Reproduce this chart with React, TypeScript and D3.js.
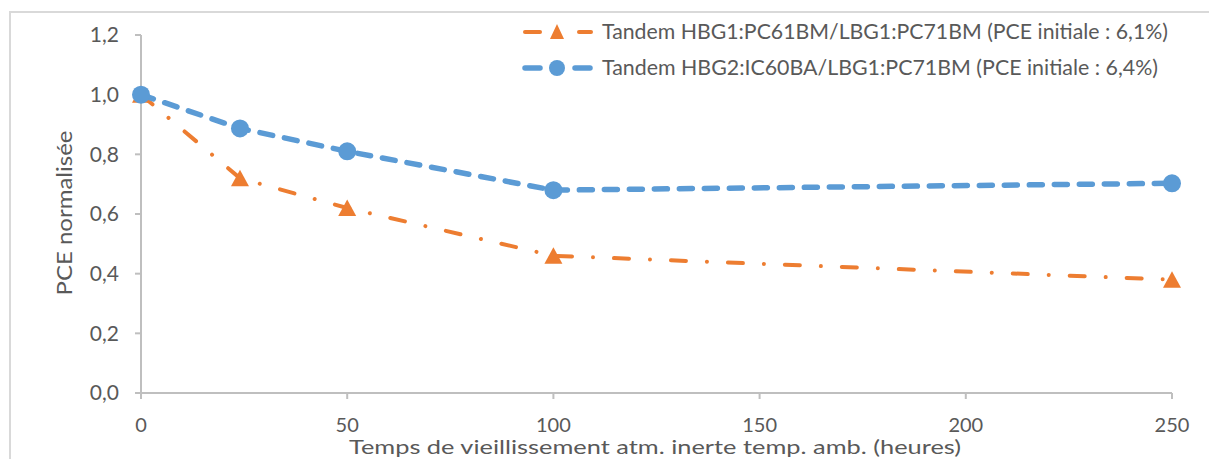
import React from "react";
import * as d3 from "d3";

const hours = [0, 24, 50, 100, 250];
const tandem1 = [1.0, 0.72, 0.62, 0.46, 0.38];
const tandem2 = [1.0, 0.887, 0.81, 0.68, 0.703];
const xTicks = [0, 50, 100, 150, 200, 250];
const yTicks = [0, 0.2, 0.4, 0.6, 0.8, 1.0, 1.2];
const legendLabels = [
  "Tandem HBG1:PC61BM/LBG1:PC71BM (PCE initiale : 6,1%)",
  "Tandem HBG2:IC60BA/LBG1:PC71BM (PCE initiale : 6,4%)",
];
const xTitle = "Temps de vieillissement atm. inerte temp. amb. (heures)";
const yTitle = "PCE normalisée";

const ORANGE = "#ED7D31";
const BLUE = "#5B9BD5";
const AXIS = "#BFBFBF";
const TEXT = "#595959";
const FONT = "Lato, 'Open Sans', sans-serif";

export default function App() {
  const x = d3.scaleLinear().domain([0, 250]).range([141, 1172]);
  const y = d3.scaleLinear().domain([0, 1.2]).range([393, 35]);
  const fmt = (v: number) => v.toFixed(1).replace(".", ",");

  const line = d3
    .line<[number, number]>()
    .x((d) => x(d[0]))
    .y((d) => y(d[1]));

  const d1 = hours.map((h, i) => [h, tandem1[i]] as [number, number]);
  const d2 = hours.map((h, i) => [h, tandem2[i]] as [number, number]);

  const triPath = (cx: number, cy: number) => {
    const s = 9;
    return `M${cx},${cy - 8.5}L${cx + s},${cy + 8}L${cx - s},${cy + 8}Z`;
  };

  return (
    <svg
      width={1209}
      height={459}
      style={{ position: "absolute", left: 0, top: 0, background: "#fff" }}
      fontFamily={FONT}
    >
      <rect x={0} y={0} width={1209} height={459} fill="#fff" />
      <rect x={10} y={12} width={1210} height={470} fill="none" stroke="#D9D9D9" strokeWidth={2} />

      {/* axes */}
      <line x1={x(0)} x2={x(0)} y1={y(1.2)} y2={y(0)} stroke={AXIS} strokeWidth={2} />
      <line x1={x(0)} x2={x(250)} y1={y(0)} y2={y(0)} stroke={AXIS} strokeWidth={2} />
      {yTicks.map((t) => (
        <g key={"y" + t}>
          <line x1={x(0) - 6} x2={x(0)} y1={y(t)} y2={y(t)} stroke={AXIS} strokeWidth={2} />
          <text x={119} y={y(t)} dy="0.35em" textAnchor="end" fontSize={21} fill={TEXT}>
            {fmt(t)}
          </text>
        </g>
      ))}
      {xTicks.map((t) => (
        <g key={"x" + t}>
          <line x1={x(t)} x2={x(t)} y1={y(0)} y2={y(0) + 6} stroke={AXIS} strokeWidth={2} />
          <text x={x(t)} y={432} textAnchor="middle" fontSize={20} fill={TEXT}>
            {t}
          </text>
        </g>
      ))}

      <text
        x={655}
        y={454}
        textAnchor="middle"
        fontSize={20}
        fill={TEXT}
        textLength={612}
        lengthAdjust="spacingAndGlyphs"
      >
        {xTitle}
      </text>
      <text
        transform={`translate(65,213) rotate(-90)`}
        dy="0.35em"
        textAnchor="middle"
        fontSize={21}
        fill={TEXT}
        textLength={165}
        lengthAdjust="spacingAndGlyphs"
      >
        {yTitle}
      </text>

      {/* series 1 (orange, dash-dot) */}
      <path
        d={line(d1) || ""}
        fill="none"
        stroke={ORANGE}
        strokeWidth={4}
        strokeLinecap="round"
        strokeDasharray="15 21 0.01 21"
      />
      {d1.map((d, i) => (
        <path key={"t" + i} d={triPath(x(d[0]), y(d[1]))} fill={ORANGE} />
      ))}

      {/* series 2 (blue, dashed) */}
      <path
        d={line(d2) || ""}
        fill="none"
        stroke={BLUE}
        strokeWidth={5.5}
        strokeLinecap="round"
        strokeDasharray="13 12"
      />
      {d2.map((d, i) => (
        <circle key={"c" + i} cx={x(d[0])} cy={y(d[1])} r={9} fill={BLUE} />
      ))}

      {/* legend */}
      <g>
        <line x1={525} x2={540} y1={32} y2={32} stroke={ORANGE} strokeWidth={4} strokeLinecap="round" />
        <line x1={579} x2={591} y1={32} y2={32} stroke={ORANGE} strokeWidth={4} strokeLinecap="round" />
        <path d={`M557,24L564,39L550,39Z`} fill={ORANGE} />
        <text
          x={602}
          y={32}
          dy="0.35em"
          fontSize={21}
          fill={TEXT}
          textLength={566}
          lengthAdjust="spacingAndGlyphs"
        >
          {legendLabels[0]}
        </text>
        <line x1={525} x2={540} y1={68} y2={68} stroke={BLUE} strokeWidth={5.5} strokeLinecap="round" />
        <line x1={575} x2={590} y1={68} y2={68} stroke={BLUE} strokeWidth={5.5} strokeLinecap="round" />
        <circle cx={557} cy={68} r={8} fill={BLUE} />
        <text
          x={602}
          y={68}
          dy="0.35em"
          fontSize={21}
          fill={TEXT}
          textLength={556}
          lengthAdjust="spacingAndGlyphs"
        >
          {legendLabels[1]}
        </text>
      </g>
    </svg>
  );
}
